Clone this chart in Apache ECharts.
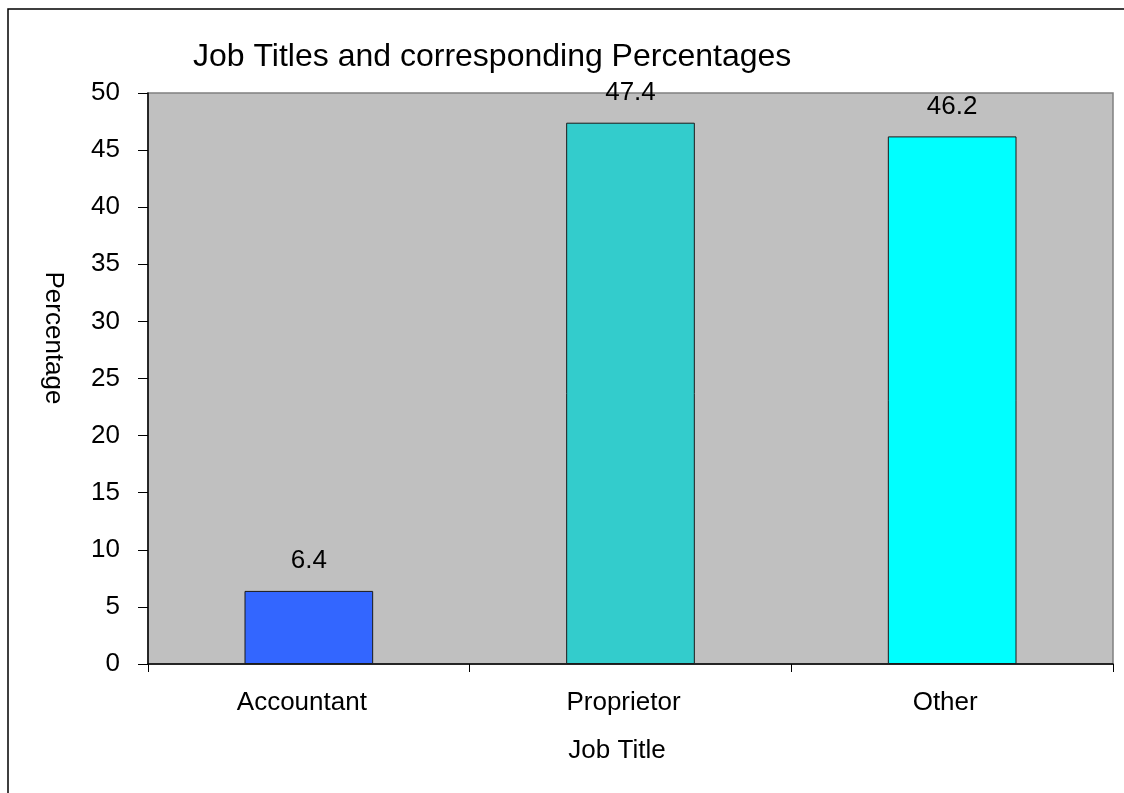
<!DOCTYPE html>
<html>
<head>
<meta charset="utf-8">
<script src="https://cdn.jsdelivr.net/npm/echarts@6/dist/echarts.min.js"></script>
<style>
html,body{margin:0;padding:0;background:#fff;}
#chart{width:1124px;height:793px;}
</style>
</head>
<body>
<div id="chart"></div>
<script>
var categories = ['Accountant', 'Proprietor', 'Other'];
var percentages = [6.4, 47.4, 46.2];
var barColors = ['#3366FF', '#33CCCC', '#00FFFF'];
var yTicks = [0, 5, 10, 15, 20, 25, 30, 35, 40, 45, 50];

var FONT = '"Liberation Sans", Arial, Helvetica, sans-serif';
var chart = echarts.init(document.getElementById('chart'), null, {renderer: 'canvas'});
chart.setOption({
  backgroundColor: '#ffffff',
  animation: false,
  title: {
    text: 'Job Titles and corresponding Percentages',
    left: 188, top: 36,
    textStyle: {fontFamily: FONT, fontSize: 32, fontWeight: 'normal', color: '#000'}
  },
  graphic: [
    {type: 'rect', silent: true,
     shape: {x: 8, y: 9, width: 1300, height: 1000},
     style: {fill: 'none', stroke: '#000', lineWidth: 1.5}},
    {type: 'text', x: 53, y: 338, rotation: -Math.PI / 2, silent: true,
     style: {text: 'Percentage', fontFamily: FONT, fontSize: 26, fill: '#000',
             textAlign: 'center', textVerticalAlign: 'middle'}},
    {type: 'text', x: 617, y: 751, silent: true,
     style: {text: 'Job Title', fontFamily: FONT, fontSize: 26, fill: '#000',
             textAlign: 'center', textVerticalAlign: 'middle'}}
  ],
  grid: {
    left: 148, right: 11, top: 93, bottom: 129,
    show: true, backgroundColor: '#C0C0C0', borderColor: '#808080', borderWidth: 1.5
  },
  xAxis: {
    type: 'category',
    data: categories,
    axisLine: {show: true, lineStyle: {color: '#000', width: 1.5}},
    axisTick: {show: true, alignWithLabel: false, length: 8, lineStyle: {color: '#000'}},
    axisLabel: {fontFamily: FONT, fontSize: 26, color: '#000', margin: 26, padding: [0, 14, 0, 0]},
    splitLine: {show: false}
  },
  yAxis: {
    type: 'value',
    min: yTicks[0], max: yTicks[yTicks.length - 1], interval: 5,
    axisLine: {show: true, lineStyle: {color: '#000', width: 1.5}},
    axisTick: {show: true, length: 10, lineStyle: {color: '#000'}},
    axisLabel: {fontFamily: FONT, fontSize: 26, color: '#000', margin: 28},
    splitLine: {show: false}
  },
  series: [{
    type: 'bar',
    barWidth: '40%',
    data: percentages.map(function (v, i) {
      return {value: v, itemStyle: {color: barColors[i]}};
    }),
    itemStyle: {borderColor: '#1a1a1a', borderWidth: 1},
    label: {
      show: true, position: 'top', distance: 17,
      fontFamily: FONT, fontSize: 26, color: '#000',
      formatter: function (p) { return p.value.toFixed(1); }
    }
  }]
});
</script>
</body>
</html>
